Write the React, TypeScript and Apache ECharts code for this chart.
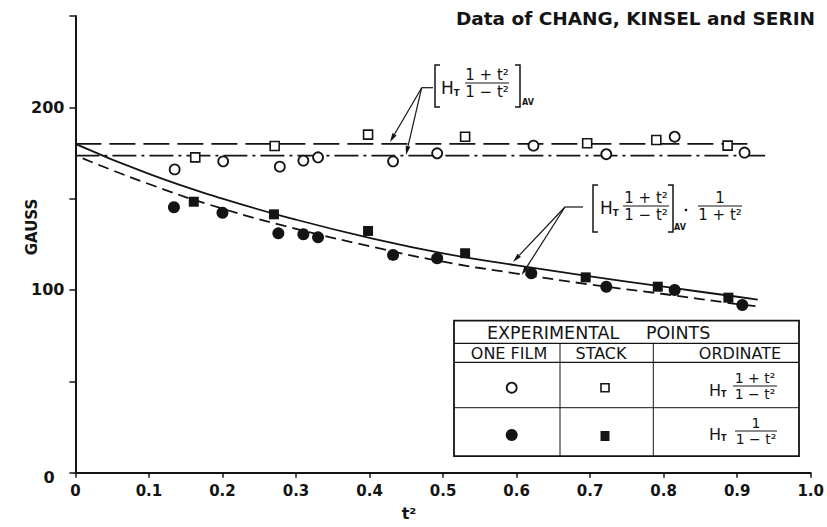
import React, { useEffect, useRef } from "react";
import * as echarts from "echarts";

// ---- data ----
const xTicks = [0, 0.1, 0.2, 0.3, 0.4, 0.5, 0.6, 0.7, 0.8, 0.9, 1.0];
const yLabels = [100, 200];

const openCircles: number[][] = [
  [0.135, 166.0], [0.201, 170.4], [0.278, 167.5], [0.31, 170.8], [0.33, 172.6],
  [0.432, 170.4], [0.492, 174.8], [0.623, 179.0], [0.722, 174.3], [0.815, 183.9], [0.91, 175.2],
];
const openSquares: number[][] = [
  [0.163, 172.6], [0.271, 178.8], [0.398, 185.0], [0.53, 183.9], [0.696, 180.3], [0.79, 182.1], [0.887, 179.0],
];
const filledCircles: number[][] = [
  [0.134, 145.3], [0.2, 142.3], [0.276, 131.0], [0.31, 130.5], [0.33, 128.8], [0.432, 119.2],
  [0.492, 117.3], [0.62, 109.1], [0.722, 101.8], [0.815, 100.0], [0.907, 91.8],
];
const filledSquares: number[][] = [
  [0.161, 148.3], [0.27, 141.4], [0.398, 132.3], [0.53, 120.1], [0.694, 106.9], [0.792, 101.8], [0.888, 95.8],
];

const avgStackLine: number[][] = [[0, 180.0], [0.923, 180.0]];
const avgFilmLine: number[][] = [[0, 173.5], [0.938, 173.5]];

const solidCurveX = [0, 0.1, 0.2, 0.3, 0.4, 0.5, 0.6, 0.7, 0.8, 0.9, 0.928];
const solidCurveY = [180, 163.5, 150, 138.5, 128.5, 120, 113.5, 107.5, 101.8, 96.3, 94.7];
const dashedCurveX = [0.01, 0.1, 0.2, 0.3, 0.4, 0.5, 0.6, 0.7, 0.8, 0.9, 0.928];
const dashedCurveY = [172, 158, 144.5, 133.5, 124, 115.5, 109, 103, 97.8, 92.3, 91];

const INK = "#141414";
const FF = '"DejaVu Sans", sans-serif';

function txt(x: number, y: number, text: string, size: number, opts: any = {}) {
  return {
    type: "text",
    x,
    y,
    rotation: opts.rotation || 0,
    style: {
      text,
      fill: INK,
      fontSize: size,
      fontFamily: opts.family || FF,
      fontWeight: opts.weight || "normal",
      textAlign: opts.align || "left",
      textVerticalAlign: opts.valign || "middle",
    },
  };
}
function ln(x1: number, y1: number, x2: number, y2: number, w = 1.4) {
  return { type: "line", shape: { x1, y1, x2, y2 }, style: { stroke: INK, lineWidth: w } };
}
function arrow(x1: number, y1: number, x2: number, y2: number) {
  const dx = x2 - x1, dy = y2 - y1;
  const len = Math.sqrt(dx * dx + dy * dy);
  const ux = dx / len, uy = dy / len;
  const L = 9, w = 2.4;
  const bx = x2 - ux * L, by = y2 - uy * L;
  return [
    ln(x1, y1, bx, by, 1.2),
    {
      type: "polygon",
      shape: { points: [[x2, y2], [bx - uy * w, by + ux * w], [bx + uy * w, by - ux * w]] },
      style: { fill: INK },
    },
  ];
}
function bracket(x: number, y1: number, y2: number, dir: number) {
  return {
    type: "polyline",
    shape: { points: [[x + dir * 5, y1], [x, y1], [x, y2], [x + dir * 5, y2]] },
    style: { stroke: INK, lineWidth: 1.5, fill: "none" },
  };
}
function frac(x: number, yBar: number, w: number, num: string, den: string, size: number) {
  return [
    txt(x + w / 2, yBar - 1, num, size, { align: "center", valign: "bottom" }),
    ln(x, yBar, x + w, yBar, 1.2),
    txt(x + w / 2, yBar + 1, den, size, { align: "center", valign: "top" }),
  ];
}
function hT(x: number, y: number, size: number) {
  return [
    txt(x, y, "H", size),
    txt(x + size * 0.75, y + size * 0.3, "T", size * 0.5, { weight: "bold" }),
  ];
}

export default function App() {
  const ref = useRef<HTMLDivElement>(null);
  useEffect(() => {
    if (!ref.current) return;
    const chart = echarts.init(ref.current, null, { renderer: "svg" });

    const graphic: any[] = [
      txt(815, 18, "Data of CHANG, KINSEL and SERIN", 18.5, { align: "right", weight: "bold" }),
      txt(32, 227, "GAUSS", 15, { align: "center", weight: "bold", rotation: Math.PI / 2 }),
      txt(49, 477, "0", 16, { align: "center", weight: "bold" }),
      txt(409, 513, "t²", 16, { align: "center", weight: "bold" }),

      // annotation 1
      ln(421.7, 87.7, 433, 87.7, 1.2),
      ...arrow(421.7, 87.7, 390, 142),
      ...arrow(421.7, 87.7, 406, 155),
      bracket(435, 65, 107, 1),
      ...hT(441, 88, 17),
      ...frac(465, 83, 44, "1 + t²", "1 − t²", 15),
      bracket(520, 65, 107, -1),
      txt(522, 102, "AV", 8, { weight: "bold" }),

      // annotation 2
      ln(565, 207, 583, 207, 1.2),
      ...arrow(565, 207, 513, 262),
      ...arrow(565, 207, 521.7, 275),
      bracket(593, 185, 232, 1),
      ...hT(600, 208, 17),
      ...frac(623, 206, 46, "1 + t²", "1 − t²", 15),
      bracket(673, 185, 232, -1),
      txt(674, 227, "AV", 8, { weight: "bold" }),
      { type: "circle", shape: { cx: 686, cy: 210, r: 1.3 }, style: { fill: INK } },
      ...frac(698, 206, 44, "1", "1 + t²", 15),

      // table
      { type: "rect", shape: { x: 454, y: 320.7, width: 345, height: 135.5 }, style: { stroke: INK, lineWidth: 1.8, fill: "#fff" } },
      ln(454, 343.3, 799, 343.3, 1.2),
      ln(454, 362.3, 799, 362.3, 1.2),
      ln(454, 407.7, 799, 407.7, 1.0),
      ln(560, 343.3, 560, 456.2, 1.0),
      ln(653.3, 343.3, 653.3, 456.2, 1.0),
      txt(487, 333, "EXPERIMENTAL", 17.5),
      txt(646, 333, "POINTS", 17.5),
      txt(509, 353, "ONE FILM", 16, { align: "center" }),
      txt(601, 353, "STACK", 16, { align: "center" }),
      txt(740, 353, "ORDINATE", 16, { align: "center" }),
      { type: "circle", shape: { cx: 511.7, cy: 387.7, r: 5 }, style: { fill: "#fff", stroke: INK, lineWidth: 1.8 } },
      { type: "rect", shape: { x: 601, y: 383.7, width: 8, height: 8 }, style: { fill: "#fff", stroke: INK, lineWidth: 1.6 } },
      ...hT(709, 390, 16),
      ...frac(733, 386, 44, "1 + t²", "1 − t²", 14),
      { type: "circle", shape: { cx: 511.7, cy: 435, r: 6 }, style: { fill: INK } },
      { type: "rect", shape: { x: 600.5, y: 431, width: 9, height: 10 }, style: { fill: INK } },
      ...hT(709, 434, 16),
      ...frac(735, 431, 42, "1", "1 − t²", 14),
    ];

    const option: any = {
      animation: false,
      backgroundColor: "#ffffff",
      grid: { left: 75.4, right: 14.2, top: 15.9, bottom: 54.3, containLabel: false },
      xAxis: {
        type: "value",
        min: 0,
        max: 1.0,
        interval: 0.1,
        axisLine: { lineStyle: { color: INK, width: 2 } },
        axisTick: { show: true, length: 5, lineStyle: { color: INK, width: 1.5 } },
        splitLine: { show: false },
        axisLabel: {
          color: INK,
          fontSize: 15,
          fontWeight: "bold",
          fontFamily: FF,
          margin: 11,
          formatter: (v: number) => {
            const t = xTicks.find((k) => Math.abs(k - v) < 1e-6);
            if (t === undefined) return "";
            return t === 0 ? "0" : t.toFixed(1);
          },
        },
      },
      yAxis: {
        type: "value",
        min: 0,
        max: 250,
        interval: 50,
        axisLine: { show: true, lineStyle: { color: INK, width: 2 } },
        axisTick: { show: true, length: 6, lineStyle: { color: INK, width: 1.5 } },
        splitLine: { show: false },
        axisLabel: {
          color: INK,
          fontSize: 16,
          fontWeight: "bold",
          fontFamily: FF,
          margin: 11,
          formatter: (v: number) => (yLabels.includes(Math.round(v)) ? String(Math.round(v)) : ""),
        },
      },
      series: [
        {
          type: "line",
          data: avgStackLine,
          showSymbol: false,
          lineStyle: { color: INK, width: 1.8, type: [26, 8] },
          z: 2,
        },
        {
          type: "line",
          data: avgFilmLine,
          showSymbol: false,
          lineStyle: { color: INK, width: 1.8, type: [24, 5, 3, 5] },
          z: 2,
        },
        {
          type: "line",
          data: solidCurveX.map((x, i) => [x, solidCurveY[i]]),
          smooth: true,
          showSymbol: false,
          lineStyle: { color: INK, width: 1.8 },
          z: 2,
        },
        {
          type: "line",
          data: dashedCurveX.map((x, i) => [x, dashedCurveY[i]]),
          smooth: true,
          showSymbol: false,
          lineStyle: { color: INK, width: 1.8, type: [11, 6] },
          z: 2,
        },
        {
          type: "scatter",
          data: openCircles,
          symbol: "circle",
          symbolSize: 10,
          itemStyle: { color: "#fff", borderColor: INK, borderWidth: 1.8, opacity: 1 },
          z: 3,
        },
        {
          type: "scatter",
          data: openSquares,
          symbol: "rect",
          symbolSize: 9,
          itemStyle: { color: "#fff", borderColor: INK, borderWidth: 1.6, opacity: 1 },
          z: 3,
        },
        {
          type: "scatter",
          data: filledCircles,
          symbol: "circle",
          symbolSize: 12,
          itemStyle: { color: INK, opacity: 1 },
          z: 3,
        },
        {
          type: "scatter",
          data: filledSquares,
          symbol: "rect",
          symbolSize: 10,
          itemStyle: { color: INK, opacity: 1 },
          z: 3,
        },
      ],
      graphic,
    };
    chart.setOption(option);
    return () => chart.dispose();
  }, []);

  return (
    <div
      ref={ref}
      style={{ position: "fixed", left: 0, top: 0, width: 827, height: 527, background: "#fff" }}
    />
  );
}
